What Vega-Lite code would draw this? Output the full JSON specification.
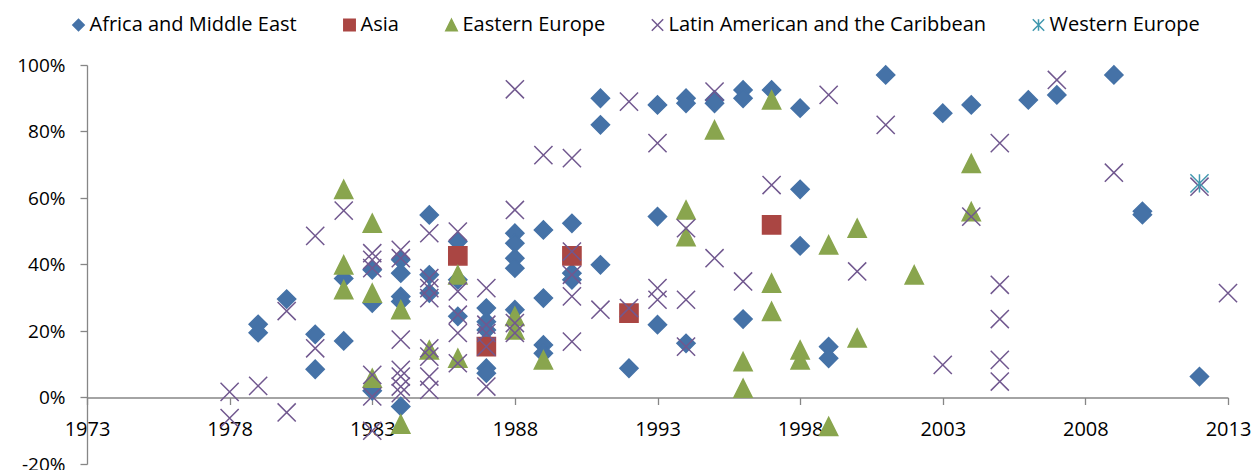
{
  "$schema": "https://vega.github.io/schema/vega-lite/v6.json",
  "width": 1141,
  "height": 399,
  "autosize": {"type": "none"},
  "padding": {"left": 87, "top": 65, "right": 25, "bottom": 6},
  "background": "white",
  "config": {"view": {"stroke": null}, "font": "Open Sans"},
  "data": {"values": [
    {"r":"Africa and Middle East","yr":1979,"v":0.22},
    {"r":"Africa and Middle East","yr":1979,"v":0.195},
    {"r":"Africa and Middle East","yr":1980,"v":0.296},
    {"r":"Africa and Middle East","yr":1981,"v":0.19},
    {"r":"Africa and Middle East","yr":1981,"v":0.085},
    {"r":"Africa and Middle East","yr":1982,"v":0.358},
    {"r":"Africa and Middle East","yr":1982,"v":0.17},
    {"r":"Africa and Middle East","yr":1983,"v":0.384},
    {"r":"Africa and Middle East","yr":1983,"v":0.284},
    {"r":"Africa and Middle East","yr":1983,"v":0.02},
    {"r":"Africa and Middle East","yr":1984,"v":0.414},
    {"r":"Africa and Middle East","yr":1984,"v":0.374},
    {"r":"Africa and Middle East","yr":1984,"v":0.304},
    {"r":"Africa and Middle East","yr":1984,"v":0.289},
    {"r":"Africa and Middle East","yr":1984,"v":-0.027},
    {"r":"Africa and Middle East","yr":1985,"v":0.549},
    {"r":"Africa and Middle East","yr":1985,"v":0.369},
    {"r":"Africa and Middle East","yr":1985,"v":0.314},
    {"r":"Africa and Middle East","yr":1986,"v":0.469},
    {"r":"Africa and Middle East","yr":1986,"v":0.354},
    {"r":"Africa and Middle East","yr":1986,"v":0.244},
    {"r":"Africa and Middle East","yr":1987,"v":0.269},
    {"r":"Africa and Middle East","yr":1987,"v":0.228},
    {"r":"Africa and Middle East","yr":1987,"v":0.203},
    {"r":"Africa and Middle East","yr":1987,"v":0.088},
    {"r":"Africa and Middle East","yr":1987,"v":0.073},
    {"r":"Africa and Middle East","yr":1988,"v":0.494},
    {"r":"Africa and Middle East","yr":1988,"v":0.464},
    {"r":"Africa and Middle East","yr":1988,"v":0.419},
    {"r":"Africa and Middle East","yr":1988,"v":0.389},
    {"r":"Africa and Middle East","yr":1988,"v":0.264},
    {"r":"Africa and Middle East","yr":1989,"v":0.504},
    {"r":"Africa and Middle East","yr":1989,"v":0.299},
    {"r":"Africa and Middle East","yr":1989,"v":0.158},
    {"r":"Africa and Middle East","yr":1989,"v":0.133},
    {"r":"Africa and Middle East","yr":1990,"v":0.524},
    {"r":"Africa and Middle East","yr":1990,"v":0.374},
    {"r":"Africa and Middle East","yr":1990,"v":0.354},
    {"r":"Africa and Middle East","yr":1991,"v":0.90},
    {"r":"Africa and Middle East","yr":1991,"v":0.82},
    {"r":"Africa and Middle East","yr":1991,"v":0.399},
    {"r":"Africa and Middle East","yr":1992,"v":0.088},
    {"r":"Africa and Middle East","yr":1993,"v":0.88},
    {"r":"Africa and Middle East","yr":1993,"v":0.544},
    {"r":"Africa and Middle East","yr":1993,"v":0.219},
    {"r":"Africa and Middle East","yr":1994,"v":0.90},
    {"r":"Africa and Middle East","yr":1994,"v":0.885},
    {"r":"Africa and Middle East","yr":1994,"v":0.163},
    {"r":"Africa and Middle East","yr":1995,"v":0.895},
    {"r":"Africa and Middle East","yr":1995,"v":0.885},
    {"r":"Africa and Middle East","yr":1996,"v":0.925},
    {"r":"Africa and Middle East","yr":1996,"v":0.90},
    {"r":"Africa and Middle East","yr":1996,"v":0.236},
    {"r":"Africa and Middle East","yr":1997,"v":0.925},
    {"r":"Africa and Middle East","yr":1998,"v":0.87},
    {"r":"Africa and Middle East","yr":1998,"v":0.626},
    {"r":"Africa and Middle East","yr":1998,"v":0.456},
    {"r":"Africa and Middle East","yr":1999,"v":0.153},
    {"r":"Africa and Middle East","yr":1999,"v":0.118},
    {"r":"Africa and Middle East","yr":2001,"v":0.97},
    {"r":"Africa and Middle East","yr":2003,"v":0.855},
    {"r":"Africa and Middle East","yr":2004,"v":0.88},
    {"r":"Africa and Middle East","yr":2006,"v":0.895},
    {"r":"Africa and Middle East","yr":2007,"v":0.91},
    {"r":"Africa and Middle East","yr":2009,"v":0.97},
    {"r":"Africa and Middle East","yr":2010,"v":0.56},
    {"r":"Africa and Middle East","yr":2010,"v":0.55},
    {"r":"Africa and Middle East","yr":2012,"v":0.063},
    {"r":"Asia","yr":1986,"v":0.426},
    {"r":"Asia","yr":1987,"v":0.153},
    {"r":"Asia","yr":1990,"v":0.426},
    {"r":"Asia","yr":1992,"v":0.254},
    {"r":"Asia","yr":1997,"v":0.519},
    {"r":"Eastern Europe","yr":1982,"v":0.626},
    {"r":"Eastern Europe","yr":1982,"v":0.399},
    {"r":"Eastern Europe","yr":1982,"v":0.324},
    {"r":"Eastern Europe","yr":1983,"v":0.524},
    {"r":"Eastern Europe","yr":1983,"v":0.314},
    {"r":"Eastern Europe","yr":1983,"v":0.058},
    {"r":"Eastern Europe","yr":1984,"v":0.264},
    {"r":"Eastern Europe","yr":1984,"v":-0.08},
    {"r":"Eastern Europe","yr":1985,"v":0.143},
    {"r":"Eastern Europe","yr":1986,"v":0.369},
    {"r":"Eastern Europe","yr":1986,"v":0.118},
    {"r":"Eastern Europe","yr":1988,"v":0.244},
    {"r":"Eastern Europe","yr":1988,"v":0.203},
    {"r":"Eastern Europe","yr":1989,"v":0.113},
    {"r":"Eastern Europe","yr":1994,"v":0.564},
    {"r":"Eastern Europe","yr":1994,"v":0.484},
    {"r":"Eastern Europe","yr":1995,"v":0.805},
    {"r":"Eastern Europe","yr":1996,"v":0.108},
    {"r":"Eastern Europe","yr":1996,"v":0.028},
    {"r":"Eastern Europe","yr":1997,"v":0.895},
    {"r":"Eastern Europe","yr":1997,"v":0.344},
    {"r":"Eastern Europe","yr":1997,"v":0.259},
    {"r":"Eastern Europe","yr":1998,"v":0.143},
    {"r":"Eastern Europe","yr":1998,"v":0.113},
    {"r":"Eastern Europe","yr":1999,"v":0.459},
    {"r":"Eastern Europe","yr":1999,"v":-0.087},
    {"r":"Eastern Europe","yr":2000,"v":0.509},
    {"r":"Eastern Europe","yr":2000,"v":0.179},
    {"r":"Eastern Europe","yr":2002,"v":0.369},
    {"r":"Eastern Europe","yr":2004,"v":0.704},
    {"r":"Eastern Europe","yr":2004,"v":0.559},
    {"r":"Latin American and the Caribbean","yr":1978,"v":0.017},
    {"r":"Latin American and the Caribbean","yr":1978,"v":-0.062},
    {"r":"Latin American and the Caribbean","yr":1979,"v":0.035},
    {"r":"Latin American and the Caribbean","yr":1980,"v":0.26},
    {"r":"Latin American and the Caribbean","yr":1980,"v":-0.045},
    {"r":"Latin American and the Caribbean","yr":1981,"v":0.486},
    {"r":"Latin American and the Caribbean","yr":1981,"v":0.148},
    {"r":"Latin American and the Caribbean","yr":1982,"v":0.562},
    {"r":"Latin American and the Caribbean","yr":1983,"v":0.434},
    {"r":"Latin American and the Caribbean","yr":1983,"v":0.414},
    {"r":"Latin American and the Caribbean","yr":1983,"v":0.389},
    {"r":"Latin American and the Caribbean","yr":1983,"v":0.068},
    {"r":"Latin American and the Caribbean","yr":1983,"v":0.003},
    {"r":"Latin American and the Caribbean","yr":1983,"v":-0.1},
    {"r":"Latin American and the Caribbean","yr":1984,"v":0.444},
    {"r":"Latin American and the Caribbean","yr":1984,"v":0.419},
    {"r":"Latin American and the Caribbean","yr":1984,"v":0.174},
    {"r":"Latin American and the Caribbean","yr":1984,"v":0.083},
    {"r":"Latin American and the Caribbean","yr":1984,"v":0.063},
    {"r":"Latin American and the Caribbean","yr":1984,"v":0.033},
    {"r":"Latin American and the Caribbean","yr":1984,"v":0.013},
    {"r":"Latin American and the Caribbean","yr":1985,"v":0.494},
    {"r":"Latin American and the Caribbean","yr":1985,"v":0.359},
    {"r":"Latin American and the Caribbean","yr":1985,"v":0.329},
    {"r":"Latin American and the Caribbean","yr":1985,"v":0.299},
    {"r":"Latin American and the Caribbean","yr":1985,"v":0.148},
    {"r":"Latin American and the Caribbean","yr":1985,"v":0.123},
    {"r":"Latin American and the Caribbean","yr":1985,"v":0.063},
    {"r":"Latin American and the Caribbean","yr":1985,"v":0.023},
    {"r":"Latin American and the Caribbean","yr":1986,"v":0.499},
    {"r":"Latin American and the Caribbean","yr":1986,"v":0.319},
    {"r":"Latin American and the Caribbean","yr":1986,"v":0.249},
    {"r":"Latin American and the Caribbean","yr":1986,"v":0.194},
    {"r":"Latin American and the Caribbean","yr":1986,"v":0.103},
    {"r":"Latin American and the Caribbean","yr":1987,"v":0.329},
    {"r":"Latin American and the Caribbean","yr":1987,"v":0.219},
    {"r":"Latin American and the Caribbean","yr":1987,"v":0.194},
    {"r":"Latin American and the Caribbean","yr":1987,"v":0.153},
    {"r":"Latin American and the Caribbean","yr":1987,"v":0.033},
    {"r":"Latin American and the Caribbean","yr":1988,"v":0.927},
    {"r":"Latin American and the Caribbean","yr":1988,"v":0.564},
    {"r":"Latin American and the Caribbean","yr":1988,"v":0.224},
    {"r":"Latin American and the Caribbean","yr":1988,"v":0.194},
    {"r":"Latin American and the Caribbean","yr":1989,"v":0.729},
    {"r":"Latin American and the Caribbean","yr":1990,"v":0.72},
    {"r":"Latin American and the Caribbean","yr":1990,"v":0.439},
    {"r":"Latin American and the Caribbean","yr":1990,"v":0.369},
    {"r":"Latin American and the Caribbean","yr":1990,"v":0.304},
    {"r":"Latin American and the Caribbean","yr":1990,"v":0.168},
    {"r":"Latin American and the Caribbean","yr":1991,"v":0.264},
    {"r":"Latin American and the Caribbean","yr":1992,"v":0.89},
    {"r":"Latin American and the Caribbean","yr":1992,"v":0.269},
    {"r":"Latin American and the Caribbean","yr":1993,"v":0.765},
    {"r":"Latin American and the Caribbean","yr":1993,"v":0.329},
    {"r":"Latin American and the Caribbean","yr":1993,"v":0.294},
    {"r":"Latin American and the Caribbean","yr":1994,"v":0.509},
    {"r":"Latin American and the Caribbean","yr":1994,"v":0.294},
    {"r":"Latin American and the Caribbean","yr":1994,"v":0.153},
    {"r":"Latin American and the Caribbean","yr":1995,"v":0.92},
    {"r":"Latin American and the Caribbean","yr":1995,"v":0.419},
    {"r":"Latin American and the Caribbean","yr":1996,"v":0.349},
    {"r":"Latin American and the Caribbean","yr":1997,"v":0.639},
    {"r":"Latin American and the Caribbean","yr":1999,"v":0.91},
    {"r":"Latin American and the Caribbean","yr":2000,"v":0.379},
    {"r":"Latin American and the Caribbean","yr":2001,"v":0.82},
    {"r":"Latin American and the Caribbean","yr":2003,"v":0.098},
    {"r":"Latin American and the Caribbean","yr":2004,"v":0.544},
    {"r":"Latin American and the Caribbean","yr":2005,"v":0.765},
    {"r":"Latin American and the Caribbean","yr":2005,"v":0.339},
    {"r":"Latin American and the Caribbean","yr":2005,"v":0.236},
    {"r":"Latin American and the Caribbean","yr":2005,"v":0.113},
    {"r":"Latin American and the Caribbean","yr":2005,"v":0.048},
    {"r":"Latin American and the Caribbean","yr":2007,"v":0.955},
    {"r":"Latin American and the Caribbean","yr":2009,"v":0.676},
    {"r":"Latin American and the Caribbean","yr":2012,"v":0.634},
    {"r":"Latin American and the Caribbean","yr":2013,"v":0.314},
    {"r":"Western Europe","yr":2012,"v":0.644}
  ]},
  "mark": {"type": "point", "filled": true, "size": 330, "strokeWidth": 1.5, "opacity": 1},
  "encoding": {
    "x": {
      "field": "yr", "type": "quantitative",
      "scale": {"domain": [1973, 2013], "nice": false, "zero": false},
      "axis": {
        "values": [1973, 1978, 1983, 1988, 1993, 1998, 2003, 2008, 2013],
        "format": "d", "title": null, "grid": false, "offset": -66.5,
        "domainColor": "#868686", "domainWidth": 1.3, "tickColor": "#868686", "tickWidth": 1.3, "tickSize": 7,
        "labelFontSize": 20, "labelFont": "Open Sans", "labelColor": "#000000", "labelPadding": 15,
        "labelFlush": false, "labelOverlap": false
      }
    },
    "y": {
      "field": "v", "type": "quantitative",
      "scale": {"domain": [-0.2, 1], "nice": false, "zero": false},
      "axis": {
        "values": [-0.2, 0, 0.2, 0.4, 0.6, 0.8, 1],
        "labelExpr": "replace(format(datum.value, '.0%'), '\u2212', '-')",
        "title": null, "grid": false,
        "domainColor": "#868686", "domainWidth": 1.3, "tickColor": "#868686", "tickWidth": 1.3, "tickSize": 7,
        "labelFontSize": 19, "labelFont": "Open Sans", "labelColor": "#000000", "labelPadding": 15,
        "labelOverlap": false
      }
    },
    "fill": {
      "field": "r", "type": "nominal",
      "scale": {
        "domain": ["Africa and Middle East", "Asia", "Eastern Europe", "Latin American and the Caribbean", "Western Europe"],
        "range": ["#4572A7", "#AA4643", "#89A54E", "transparent", "transparent"]
      },
      "legend": {
        "orient": "none", "legendX": -18.5, "legendY": -50, "direction": "horizontal", "title": null,
        "labelFontSize": 20, "labelFont": "Open Sans", "labelColor": "#000000", "labelLimit": 500,
        "symbolSize": 130, "symbolStrokeWidth": 1.5, "columnPadding": 42, "labelOffset": 1, "padding": 0
      }
    },
    "stroke": {
      "field": "r", "type": "nominal",
      "scale": {
        "domain": ["Africa and Middle East", "Asia", "Eastern Europe", "Latin American and the Caribbean", "Western Europe"],
        "range": ["#4572A7", "#AA4643", "#89A54E", "#71588F", "#4198AF"]
      },
      "legend": {
        "orient": "none", "legendX": -18.5, "legendY": -50, "direction": "horizontal", "title": null,
        "labelFontSize": 20, "labelFont": "Open Sans", "labelColor": "#000000", "labelLimit": 500,
        "symbolSize": 130, "symbolStrokeWidth": 1.5, "columnPadding": 42, "labelOffset": 1, "padding": 0
      }
    },
    "shape": {
      "field": "r", "type": "nominal",
      "scale": {
        "domain": ["Africa and Middle East", "Asia", "Eastern Europe", "Latin American and the Caribbean", "Western Europe"],
        "range": ["diamond", "square", "M0,-1L1,1L-1,1Z", "M-1,-1L1,1M1,-1L-1,1", "M-1,-1L1,1M1,-1L-1,1M0,-1L0,1"]
      },
      "legend": {
        "orient": "none", "legendX": -18.5, "legendY": -50, "direction": "horizontal", "title": null,
        "labelFontSize": 20, "labelFont": "Open Sans", "labelColor": "#000000", "labelLimit": 500,
        "symbolSize": 130, "symbolStrokeWidth": 1.5, "columnPadding": 42, "labelOffset": 1, "padding": 0
      }
    }
  }
}
